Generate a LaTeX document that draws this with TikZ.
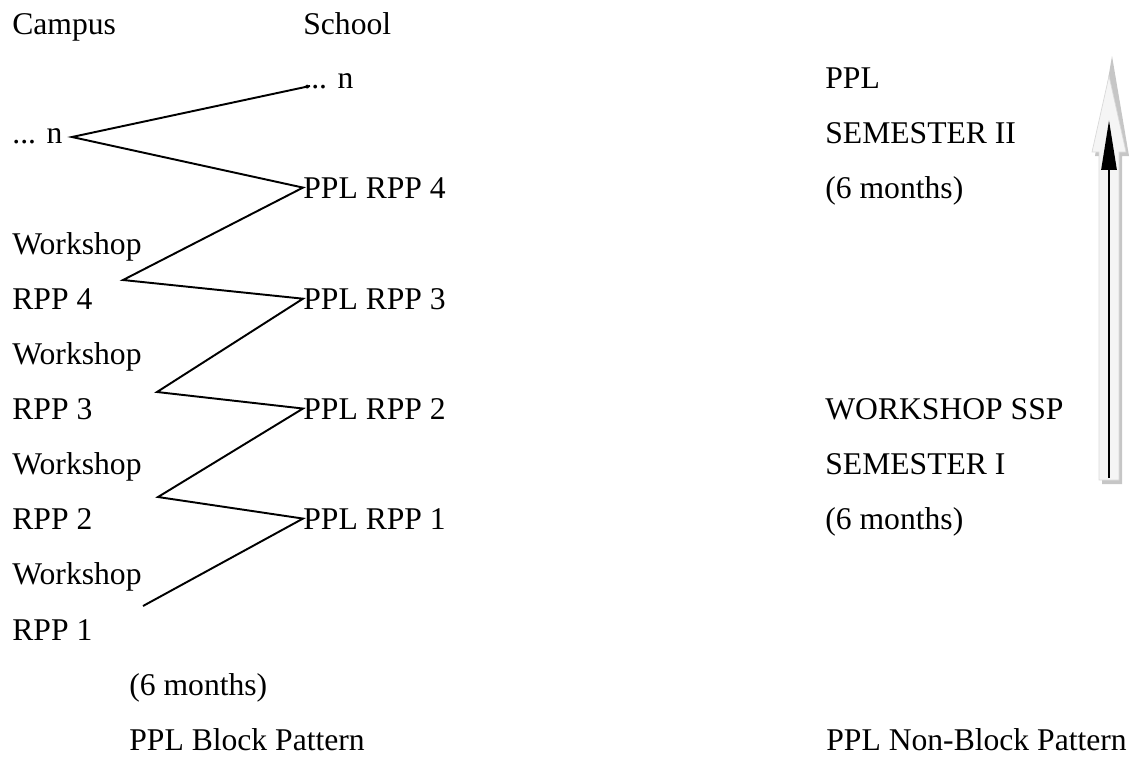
\documentclass[tikz,border=0pt]{standalone}
\usepackage{fontspec}
\setmainfont{Liberation Serif}
\usepackage{tikz}
\usetikzlibrary{arrows.meta}
\tikzset{>=Stealth}
\tikzset{
  lbl/.style={anchor=base west,inner sep=0pt,font=\fontsize{18}{22}\selectfont},
  zig/.style={black,line width=1.1pt,line join=miter},
}
% hollow block arrow: #1 = x shift, #2 = y shift, #3 = tip y
\newcommand{\blockarrow}[3]{%
  (1099+#1,480+#2) -- (1099+#1,152+#2) -- (1092+#1,152+#2) -- (1109+#1,#3)
  -- (1126+#1,152+#2) -- (1119+#1,152+#2) -- (1119+#1,480+#2) -- cycle
}

\begin{document}
\begin{tikzpicture}[x=0.02cm,y=-0.02cm]
\useasboundingbox (0,0) rectangle (1132,758);
% headers
\node[lbl] (campus) at (12,34) {Campus};
\node[lbl] (school) at (303,34) {School};
% campus column
\node[lbl] (cn) at (12,143) {... n};
\node[lbl] (w4) at (12,254) {Workshop};
\node[lbl] (r4) at (12,309) {RPP 4};
\node[lbl] (w3) at (12,364) {Workshop};
\node[lbl] (r3) at (12,419) {RPP 3};
\node[lbl] (w2) at (12,474) {Workshop};
\node[lbl] (r2) at (12,529) {RPP 2};
\node[lbl] (w1) at (12,584) {Workshop};
\node[lbl] (r1) at (12,640) {RPP 1};
\node[lbl] (bsix) at (129,695) {(6 months)};
\node[lbl] (block) at (129,750) {PPL Block Pattern};
% school column
\node[lbl] (sn) at (303,88) {... n};
\node[lbl] (p4) at (303,198) {PPL RPP 4};
\node[lbl] (p3) at (303,309) {PPL RPP 3};
\node[lbl] (p2) at (303,419) {PPL RPP 2};
\node[lbl] (p1) at (303,529) {PPL RPP 1};
% non-block column
\node[lbl] (ppl) at (825,88) {PPL};
\node[lbl] (sem2) at (825,143) {SEMESTER II};
\node[lbl] (six2) at (825,198) {(6 months)};
\node[lbl] (wssp) at (825,419) {WORKSHOP SSP};
\node[lbl] (sem1) at (825,474) {SEMESTER I};
\node[lbl] (six1) at (825,529) {(6 months)};
\node[lbl] (nonblock) at (826,750) {PPL Non-Block Pattern};
% zigzag bends
\coordinate (top) at (310,86);
\coordinate (cv) at (72,137);
\coordinate (v4) at (123,280);
\coordinate (v3) at (157,392);
\coordinate (v2) at (158,497);
\coordinate (v1) at (143,606);
\draw[zig] (top) -- (cv) -- (p4.west) -- (v4) -- (p3.west) -- (v3)
  -- (p2.west) -- (v2) -- (p1.west) -- (v1);
% semester arrow
\fill[gray!45] \blockarrow{3}{4}{56};
\fill[gray!8] \blockarrow{0}{0}{76};
\draw[gray!30,thin] \blockarrow{0}{0}{76};
\coordinate (abot) at (1109,478);
\coordinate (atop) at (1109,120);
\draw[line width=1.6pt,-{Triangle[length=1cm,width=0.3cm]}] (abot) -- (atop);
\end{tikzpicture}
\end{document}
